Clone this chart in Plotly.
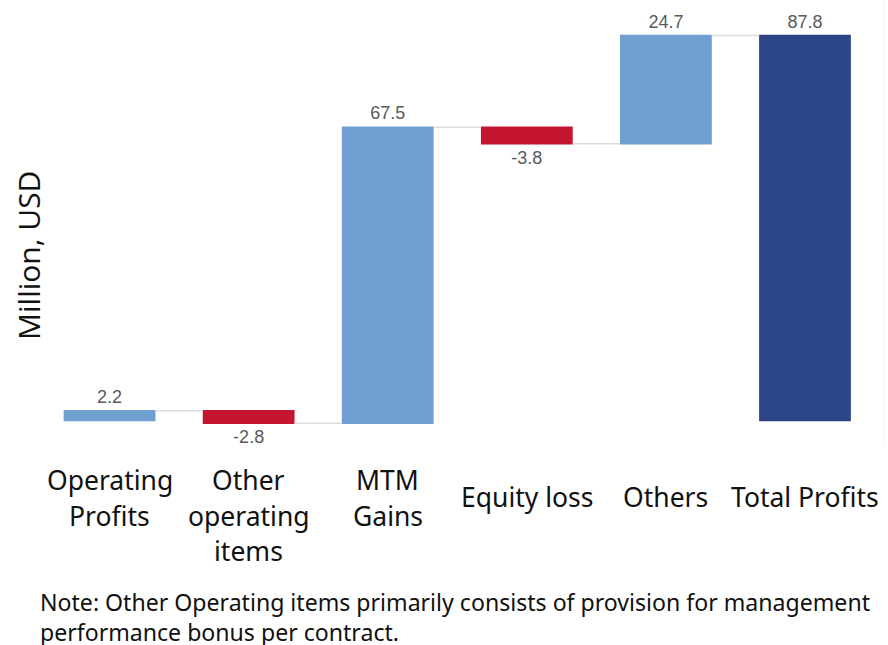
import plotly.graph_objects as go

categories = ["Operating Profits", "Other operating items", "MTM Gains", "Equity loss", "Others", "Total Profits"]
tick_labels = ["Operating<br>Profits", "Other<br>operating<br>items", "MTM<br>Gains", "Equity loss", "Others", "Total Profits"]
values = [2.2, -2.8, 67.5, -3.8, 24.7, 87.8]
measures = ["relative", "relative", "relative", "relative", "relative", "total"]
value_labels = ["2.2", "-2.8", "67.5", "-3.8", "24.7", "87.8"]
y_title = "Million, USD"
note = "Note: Other Operating items primarily consists of provision for management<br>performance bonus per contract."

W, H = 888, 645
L, R = 40, 7
top_px, bot_px = 10, 450
zero_px = 420.5
px_per_unit = (420.5 - 35.5) / 87.8
y_max = (zero_px - top_px) / px_per_unit
y_min = -(bot_px - zero_px) / px_per_unit
plot_w = W - L - R
plot_h = bot_px - top_px


def py(ypx):
    return (bot_px - ypx) / plot_h


def px(xpx):
    return (xpx - L) / plot_w


fig = go.Figure()
fig.add_trace(go.Waterfall(
    x=categories,
    y=values,
    measure=measures,
    text=value_labels,
    textposition="outside",
    textfont=dict(family="Liberation Sans, Arial", size=18, color="#595959"),
    increasing=dict(marker=dict(color="#70a0d2")),
    decreasing=dict(marker=dict(color="#c4162f")),
    totals=dict(marker=dict(color="#2c4687")),
    connector=dict(line=dict(color="#dcdcdc", width=1.5)),
    cliponaxis=False,
    showlegend=False,
))

annotations = []
for cat, lab in zip(categories, tick_labels):
    lines = lab.split("<br>")
    base = 480 if len(lines) > 1 else 497
    for i, ln in enumerate(lines):
        annotations.append(dict(
            x=cat, xref="x", y=py(base + i * 35.5), yref="paper",
            text=ln, showarrow=False, xanchor="center", yanchor="middle",
            font=dict(family="Noto Sans", size=26.5, color="#111111"),
        ))

annotations.append(dict(
    x=px(28), xref="paper", y=py(256), yref="paper", textangle=-90,
    text=y_title, showarrow=False, xanchor="center", yanchor="middle",
    font=dict(family="Open Sans", size=30, color="#111111"),
))

annotations.append(dict(
    x=px(38), xref="paper", y=py(617), yref="paper",
    text=note, showarrow=False, xanchor="left", yanchor="middle", align="left",
    font=dict(family="Noto Sans", size=23.1, color="#111111"),
))

fig.update_layout(
    width=W, height=H,
    margin=dict(l=L, r=R, t=top_px, b=H - bot_px, autoexpand=False),
    paper_bgcolor="white", plot_bgcolor="white",
    waterfallgap=0.34,
    xaxis=dict(showticklabels=False, showgrid=False, zeroline=False, showline=False, ticks=""),
    yaxis=dict(range=[y_min, y_max], showticklabels=False, showgrid=False, zeroline=False,
               showline=False, ticks=""),
    annotations=annotations,
    shapes=[dict(type="line", xref="paper", yref="paper", x0=px(884), x1=px(884),
                 y0=py(0), y1=py(447), line=dict(color="#f2f2f2", width=1))],
)

fig.write_html("out.html", config={"displayModeBar": False},
               post_script="document.body.style.margin='0';")
